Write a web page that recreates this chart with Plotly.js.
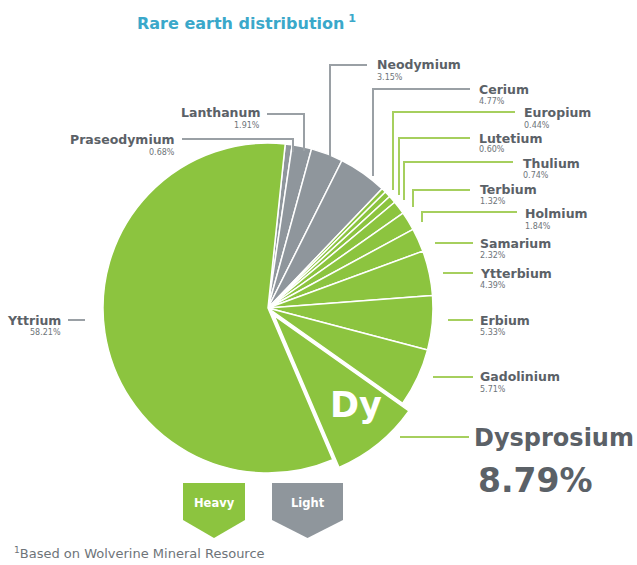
<!DOCTYPE html>
<html><head><meta charset="utf-8">
<script src="https://cdn.plot.ly/plotly-3.0.1.min.js"></script>
<style>html,body{margin:0;padding:0;background:#fff}#chart{width:637px;height:565px}</style>
</head><body><div id="chart"></div>
<script>
// ---- data ----
const elements = ['Praseodymium','Lanthanum','Neodymium','Cerium','Europium','Lutetium','Thulium','Terbium','Holmium','Samarium','Ytterbium','Erbium','Gadolinium','Dysprosium','Yttrium'];
const shares = [0.68,1.91,3.15,4.77,0.44,0.60,0.74,1.32,1.84,2.32,4.39,5.33,5.71,8.79,58.21];
const groups = ['Light','Light','Light','Light','Heavy','Heavy','Heavy','Heavy','Heavy','Heavy','Heavy','Heavy','Heavy','Heavy','Heavy'];
const groupNames = ['Heavy','Light'];
const highlighted = 'Dysprosium';
const highlightSymbol = 'Dy';
const titleText = 'Rare earth distribution';
const footnoteText = 'Based on Wolverine Mineral Resource';

// ---- styles / layout ----
const W = 637, H = 565;
const GREEN = '#8cc43f', GRAY = '#8f969c', LGREEN = '#a6cf5e', LGRAY = '#9aa0a5';
const TXT = '#5b6167', PCT = '#6e7479', TITLE = '#3aa8ca';
const FONT = 'DejaVu Sans';
const px = x => x / W, py = y => 1 - y / H;

const cx = 268, cy = 308, r = 165, pullAmt = 0.06;
const half = r * (1 + pullAmt);

// label placement (pixel positions) keyed by element
const labelPos = {
  Praseodymium: {x:177, y:140, side:'right', line:[[182,139],[293,139],[293,152]]},
  Lanthanum:    {x:262, y:113, side:'right', line:[[267,114],[304,114],[304,151]]},
  Neodymium:    {x:375, y:65,  side:'left',  line:[[367,65],[330,65],[330,156]]},
  Cerium:       {x:477, y:89,  side:'left',  line:[[470,89],[373,89],[373,176]]},
  Europium:     {x:522, y:113, side:'left',  line:[[515,112],[393,112],[393,190]]},
  Lutetium:     {x:477, y:138, side:'left',  line:[[470,138],[399,138],[399,195]]},
  Thulium:      {x:521, y:163, side:'left',  line:[[513,162],[404,162],[404,200]]},
  Terbium:      {x:478, y:189, side:'left',  line:[[470,190],[413,190],[413,207]]},
  Holmium:      {x:523, y:214, side:'left',  line:[[517,212],[422,212],[422,222]]},
  Samarium:     {x:478, y:243, side:'left',  line:[[473,243],[435,243]]},
  Ytterbium:    {x:478, y:273, side:'left',  line:[[473,273],[443,273]]},
  Erbium:       {x:478, y:320, side:'left',  line:[[473,320],[448,320]]},
  Gadolinium:   {x:478, y:377, side:'left',  line:[[473,377],[433,377]]},
  Dysprosium:   {x:472, y:438, side:'left',  line:[[469,437],[400,437]]},
  Yttrium:      {x:63,  y:320, side:'right', line:[[68,320],[85,320]]}
};

const colorOf = g => g === 'Heavy' ? GREEN : GRAY;
const lineColorOf = (e, g) => (g === 'Heavy' && e !== 'Yttrium') ? LGREEN : LGRAY;

const trace = {
  type: 'pie',
  labels: elements,
  values: shares,
  sort: false,
  direction: 'clockwise',
  rotation: 6,
  pull: elements.map(e => e === highlighted ? pullAmt : 0),
  marker: { colors: groups.map(colorOf), line: { color: '#ffffff', width: 1.5 } },
  textinfo: 'none',
  hoverinfo: 'label+value',
  showlegend: false,
  domain: { x: [px(cx - half), px(cx + half)], y: [py(cy + half), py(cy - half)] }
};

const annotations = [];
const shapes = [];

elements.forEach((e, i) => {
  const p = labelPos[e];
  const big = e === highlighted;
  const anchor = p.side === 'right' ? 'right' : 'left';
  annotations.push({
    xref:'paper', yref:'paper', x: px(p.x), y: py(p.y), xanchor: anchor, yanchor:'middle',
    showarrow:false, text: e,
    font:{family:FONT, size: big ? 24 : 12.5, color:TXT, weight:'bold'}
  });
  annotations.push({
    xref:'paper', yref:'paper', x: px(big ? p.x + 4 : p.x), y: py(big ? p.y + 42 : p.y + 12),
    xanchor: anchor, yanchor:'middle', showarrow:false,
    text: shares[i].toFixed(2) + '%',
    font:{family:FONT, size: big ? 33 : 8, color: big ? TXT : PCT, weight: big ? 'bold' : 'normal'}
  });
  const d = p.line.map((pt, k) => (k ? 'L' : 'M') + px(pt[0]) + ',' + py(pt[1])).join(' ');
  shapes.push({type:'path', xref:'paper', yref:'paper', path:d,
    line:{color: lineColorOf(e, groups[i]), width:2}});
});

// symbol on highlighted slice
annotations.push({xref:'paper', yref:'paper', x:px(356), y:py(405), xanchor:'center', yanchor:'middle',
  showarrow:false, text: highlightSymbol, font:{family:FONT, size:35, color:'#ffffff', weight:'bold'}});

// group legend (pentagon tags)
const tagX = {Heavy:[183,245], Light:[272,343]};
groupNames.forEach(g => {
  const [x0, x1] = tagX[g];
  const xm = (x0 + x1) / 2;
  const pts = [[x0,483],[x1,483],[x1,520],[xm,538],[x0,520]];
  shapes.push({type:'path', xref:'paper', yref:'paper',
    path: pts.map((pt,k)=>(k?'L':'M')+px(pt[0])+','+py(pt[1])).join(' ') + ' Z',
    fillcolor: colorOf(g), line:{width:0}});
  annotations.push({xref:'paper', yref:'paper', x:px(xm), y:py(503), xanchor:'center', yanchor:'middle',
    showarrow:false, text:g, font:{family:FONT, size:11.5, color:'#ffffff', weight:'bold'}});
});

// footnote
annotations.push({xref:'paper', yref:'paper', x:px(12), y:py(553), xanchor:'left', yanchor:'middle',
  showarrow:false, text:'<sup>1</sup>' + footnoteText, font:{family:FONT, size:13, color:'#6e7479'}});

const layout = {
  width: W, height: H,
  margin: {l:0, r:0, t:0, b:0, pad:0},
  paper_bgcolor: '#ffffff', plot_bgcolor: '#ffffff',
  showlegend: false,
  title: {text: titleText + '<sup> 1</sup>', x: px(137), xanchor:'left', xref:'paper',
          y: py(23), yanchor:'middle', yref:'paper',
          font:{family:FONT, size:16, color:TITLE, weight:'bold'}},
  annotations, shapes
};

Plotly.newPlot('chart', [trace], layout, {displayModeBar:false, staticPlot:true});
</script></body></html>
